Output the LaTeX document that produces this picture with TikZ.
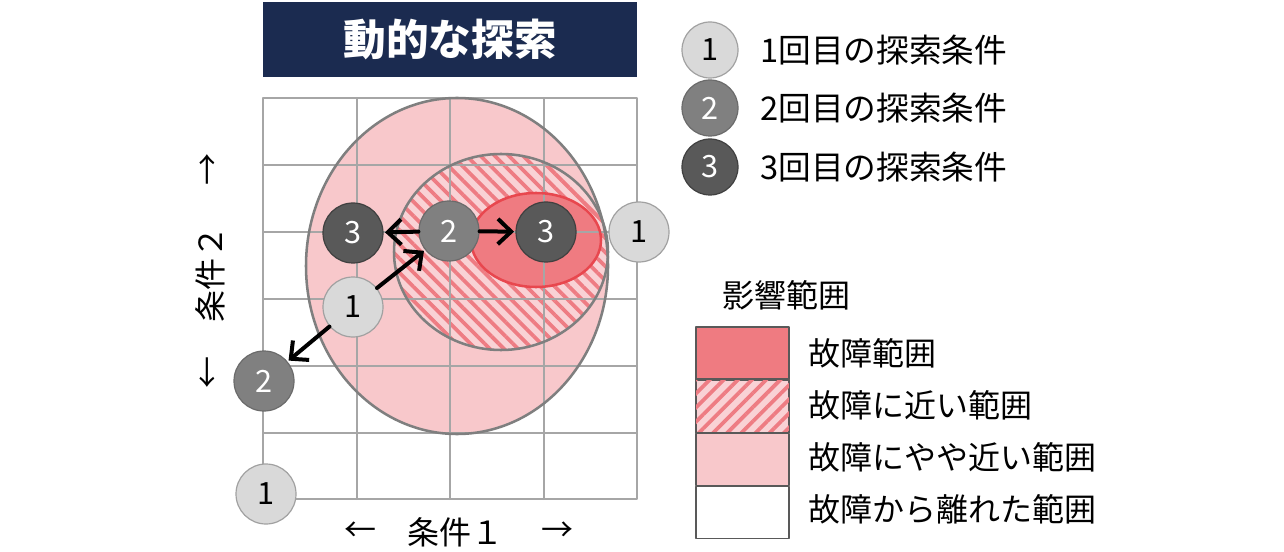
\documentclass[tikz,border=0pt]{standalone}
\usepackage{fontspec}
\setmainfont{Noto Sans CJK JP}
\usepackage{tikz}
\usetikzlibrary{arrows.meta}
\usetikzlibrary{patterns.meta}
\usetikzlibrary{positioning}
\definecolor{navy}{HTML}{1B2B50}
\definecolor{farpink}{HTML}{F8C8CB}
\definecolor{nearpink}{HTML}{F9D2D5}
\definecolor{stripered}{HTML}{EE7C83}
\definecolor{faultred}{HTML}{EF7B81}
\definecolor{faultline}{HTML}{E8474E}
\definecolor{outlinegray}{HTML}{7F7F7F}
\definecolor{gridgray}{HTML}{A6A6A6}

\begin{document}
\begin{tikzpicture}[line cap=round,line join=round, x=0.75pt,y=-0.75pt,
  cond/.style={circle, inner sep=0pt, minimum size=45pt, line width=0.9pt, font=\fontsize{23}{25}\selectfont},
  condA/.style={cond, fill=black!15, draw=black!37},
  condB/.style={cond, fill=black!50, draw=black!58, text=white},
  condC/.style={cond, fill=black!65, draw=black!75, text=white},
  keybox/.style={draw=black!65, line width=0.9pt, minimum width=69.75pt, minimum height=39pt, inner sep=0pt},
  keytext/.style={anchor=west, inner sep=0pt, font=\fontsize{24}{28}\selectfont},
  axis/.style={inner sep=0pt, font=\fontsize{24}{28}\selectfont},
  arr/.style={line width=3pt, -{Straight Barb[length=10pt, width=19pt, line width=3pt]}, shorten >=1pt}]
\useasboundingbox (0,0) rectangle (1284,552);

% title
\node (title) [fill=navy, minimum width=280.5pt, minimum height=56pt, text=white,
  font=\bfseries\fontsize{32}{36}\selectfont] at (450,39.5) {動的な探索};

% regions
\fill [farpink] (457,266) ellipse [x radius=151, y radius=168];
\fill [nearpink] (501,252) ellipse [x radius=107, y radius=98];
\fill [pattern={Lines[angle=-45,distance=7.5pt,line width=2.8pt]}, pattern color=stripered] (501,252) ellipse [x radius=107, y radius=98];
\fill [faultred] (536,240) ellipse [x radius=65, y radius=47];

% grid
\draw [gridgray, line width=1.5pt] (263,98) rectangle (637,499);
\foreach \gx in {356.5,450,543.5}
  \draw [gridgray, line width=1.5pt] (\gx,98) -- (\gx,499);
\foreach \gy in {165,232,299,366,433}
  \draw [gridgray, line width=1.5pt] (263,\gy) -- (637,\gy);

\draw [outlinegray, line width=1.9pt] (457,266) ellipse [x radius=151, y radius=168];
\draw [outlinegray, line width=1.9pt] (501,252) ellipse [x radius=107, y radius=98];
\draw [faultline, line width=1.9pt] (536,240) ellipse [x radius=65, y radius=47];

% search conditions
\node [condA] (first) at (266,494) {1};
\node [condB] (secondA) at (264,381) {2};
\node [condA] (firstB) at (353,307) {1};
\node [condB] (secondB) at (449,231) {2};
\node [condC] (thirdA) at (353,233) {3};
\node [condC] (thirdB) at (546,232) {3};
\node [condA] (firstC) at (639,232) {1};

\draw [arr] (firstB) -- (secondA);
\draw [arr] (firstB) -- (secondB);
\draw [arr] (secondB) -- (thirdA);
\draw [arr] (secondB) -- (thirdB);

% axes
\node [axis] (xleft) at (360,532) {←};
\node [axis] (xlabel) at (455,532) {条件１};
\node [axis] (xright) at (557,532) {→};
\node [axis, rotate=90] (yleft) at (210,372) {←};
\node [axis, rotate=90] (ylabel) at (210,274) {条件２};
\node [axis, rotate=90] (yright) at (210,170) {→};

% legend
\node [condA, minimum size=42pt] (keyA) at (710,50) {1};
\node [condB, minimum size=42pt] (keyB) at (710,108) {2};
\node [condC, minimum size=42pt] (keyC) at (710,167) {3};
\node [keytext, font=\fontsize{24.5}{28}\selectfont] (keyAtext) at (760,50) {1回目の探索条件};
\node [keytext, font=\fontsize{24.5}{28}\selectfont] (keyBtext) at (760,108) {2回目の探索条件};
\node [keytext, font=\fontsize{24.5}{28}\selectfont] (keyCtext) at (760,167) {3回目の探索条件};

\node [keytext] (rangetitle) at (722,295) {影響範囲};
\node [keybox, fill=faultred] (boxA) at (742.5,353) {};
\node [keybox, below=0pt of boxA, fill=nearpink,
  postaction={pattern={Lines[angle=45,distance=7.5pt,line width=2.8pt]}, pattern color=stripered}] (boxB) {};
\node [keybox, below=0pt of boxB, fill=farpink] (boxC) {};
\node [keybox, below=0pt of boxC, fill=white] (boxD) {};
\draw [black!65, line width=0.9pt] (boxB.north west) rectangle (boxB.south east);
\node [keytext] (boxAtext) at (808,353) {故障範囲};
\node [keytext] (boxBtext) at (808,405) {故障に近い範囲};
\node [keytext] (boxCtext) at (808,457) {故障にやや近い範囲};
\node [keytext] (boxDtext) at (808,509) {故障から離れた範囲};
\end{tikzpicture}
\end{document}
